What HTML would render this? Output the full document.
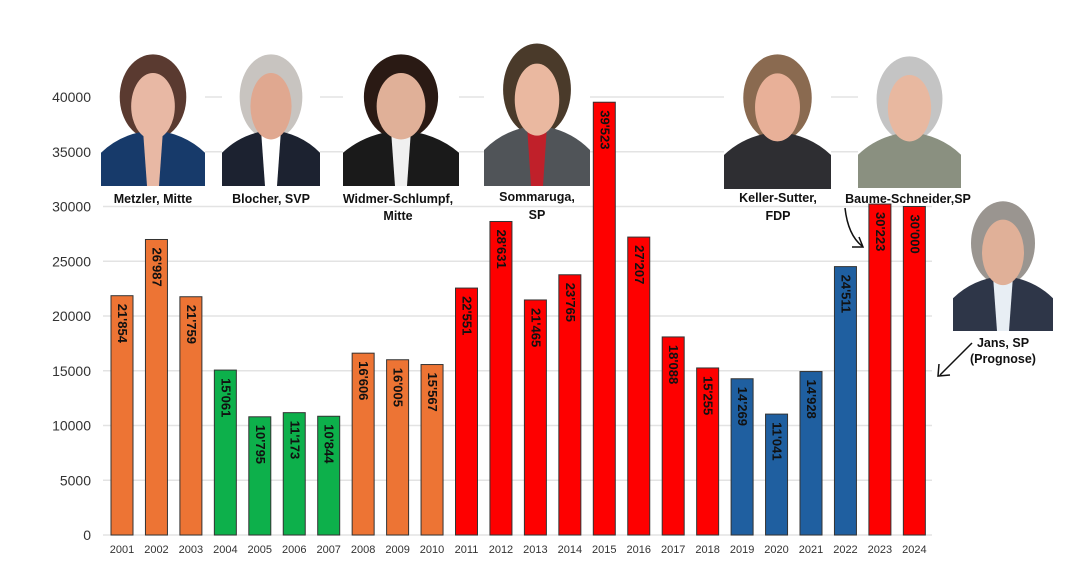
<!DOCTYPE html>
<html><head><meta charset="utf-8"><style>
html,body{margin:0;padding:0;background:#fff;}
svg{display:block;}
text{font-family:"Liberation Sans","DejaVu Sans",sans-serif;}
</style></head><body>
<svg id="s" width="1068" height="564" xmlns="http://www.w3.org/2000/svg"></svg>
<script>
const s=document.getElementById('s');let h='';
const Y=v=>535-v*0.01095;
for(let v=0;v<=40000;v+=5000){const y=Y(v);h+=`<line x1="103" x2="932" y1="${y}" y2="${y}" stroke="#e3e3e3" stroke-width="1.5"/>`;
h+=`<text x="91" y="${y+5}" text-anchor="end" font-size="14" fill="#333">${v}</text>`;}
const d=[[21854,'21\'854','o'],[26987,'26\'987','o'],[21759,'21\'759','o'],[15061,'15\'061','g'],[10795,'10\'795','g'],[11173,'11\'173','g'],[10844,'10\'844','g'],[16606,'16\'606','o'],[16005,'16\'005','o'],[15567,'15\'567','o'],[22551,'22\'551','r'],[28631,'28\'631','r'],[21465,'21\'465','r'],[23765,'23\'765','r'],[39523,'39\'523','r'],[27207,'27\'207','r'],[18088,'18\'088','r'],[15255,'15\'255','r'],[14269,'14\'269','b'],[11041,'11\'041','b'],[14928,'14\'928','b'],[24511,'24\'511','b'],[30223,'30\'223','r'],[30000,'30\'000','r']];
const C={o:'#ed7434',g:'#0db04b',r:'#fe0000',b:'#1f5fa0'};
d.forEach((e,i)=>{const cx=122+i*34.45,y=Y(e[0]);
h+=`<rect x="${cx-11}" y="${y}" width="22" height="${535-y}" fill="${C[e[2]]}" stroke="#333" stroke-width="1"/>`;
h+=`<text transform="translate(${cx-4},${y+8}) rotate(90)" font-size="13" font-weight="bold" fill="#111">${e[1]}</text>`;
h+=`<text x="${cx}" y="553" text-anchor="middle" font-size="11" fill="#333">${2001+i}</text>`;});
function photo(x,y,w,hh,bg,hair,skin,suit,shirt){
 let g=`<g><clipPath id="c${x}"><rect x="${x}" y="${y}" width="${w}" height="${hh}"/></clipPath><g clip-path="url(#c${x})">`;
 const cx=x+w/2;
 g+=`<rect x="${x}" y="${y}" width="${w}" height="${hh}" fill="${bg}"/>`;
 g+=`<ellipse cx="${cx}" cy="${y+hh*0.33}" rx="${w*0.32}" ry="${hh*0.32}" fill="${hair}"/>`;
 g+=`<path d="M${x} ${y+hh} L${x} ${y+hh*0.75} Q${cx-w*0.3} ${y+hh*0.6} ${cx} ${y+hh*0.58} Q${cx+w*0.3} ${y+hh*0.6} ${x+w} ${y+hh*0.75} L${x+w} ${y+hh} Z" fill="${suit}"/>`;
 g+=`<path d="M${cx-10} ${y+hh*0.58} L${cx+10} ${y+hh*0.58} L${cx+6} ${y+hh} L${cx-6} ${y+hh} Z" fill="${shirt}"/>`;
 g+=`<ellipse cx="${cx}" cy="${y+hh*0.4}" rx="${w*0.21}" ry="${hh*0.25}" fill="${skin}"/>`;
 g+=`</g></g>`;return g;}
h+=photo(101,53,104,133,'#fff','#5a3a30','#e8b8a4','#173a6a','#e8b8a4');
h+=photo(222,53,98,133,'#fff','#c8c4c0','#e0a890','#1c2230','#ffffff');
h+=photo(343,53,116,133,'#fff','#2a1a14','#e0b098','#1a1a1a','#f0f0f0');
h+=photo(484,42,106,144,'#fff','#4a3a2a','#eab8a0','#505458','#c0202a');
h+=photo(724,53,107,136,'#fff','#8a6a50','#e8b098','#2e2e32','#2e2e32');
h+=photo(858,55,103,133,'#fff','#c4c4c4','#e8b8a0','#8a9080','#8a9080');
h+=photo(953,200,100,131,'#fff','#9a9590','#e0b098','#2e3648','#e8eef4');
const L=(x,y,t)=>`<text x="${x}" y="${y}" text-anchor="middle" font-size="12.5" font-weight="bold" fill="#111">${t}</text>`;
h+=L(153,203,'Metzler, Mitte')+L(271,203,'Blocher, SVP')+L(398,203,'Widmer-Schlumpf,')+L(398,220,'Mitte')+L(537,201,'Sommaruga,')+L(537,219,'SP')+L(778,202,'Keller-Sutter,')+L(778,220,'FDP')+L(908,203,'Baume-Schneider,SP')+L(1003,347,'Jans, SP')+L(1003,363,'(Prognose)');
h+=`<path d="M845 208 Q848 235 862 246" fill="none" stroke="#111" stroke-width="1.5"/><path d="M852 247 L863 247 L859 237" fill="none" stroke="#111" stroke-width="1.5"/>`;
h+=`<path d="M972 343 Q955 360 940 375" fill="none" stroke="#111" stroke-width="1.5"/><path d="M939 364 L938 376 L950 375" fill="none" stroke="#111" stroke-width="1.5"/>`;
s.innerHTML=h;
</script>
</body></html>
